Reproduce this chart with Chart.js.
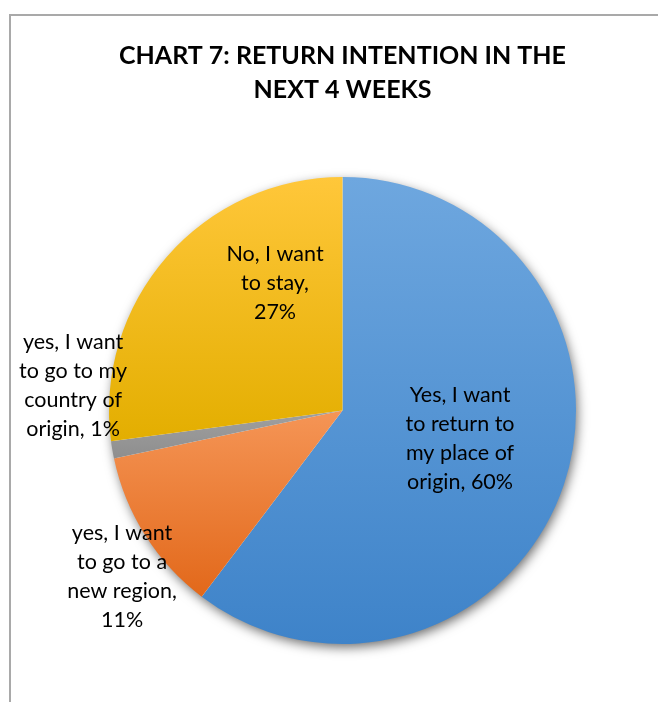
<!DOCTYPE html>
<html>
<head>
<meta charset="utf-8">
<script src="https://cdn.jsdelivr.net/npm/chart.js@4.4.0/dist/chart.umd.min.js"></script>
<style>
  html, body { margin: 0; padding: 0; background: #ffffff; }
  #wrap { position: absolute; left: 0; top: 0; width: 658px; height: 702px; overflow: hidden; }
  #frame { position: absolute; left: 9px; top: 14px; width: 720px; height: 760px;
           border-left: 2px solid #a9a9a9; border-top: 2px solid #a9a9a9; }
  #c { position: absolute; left: 0; top: 0; }
</style>
</head>
<body>
<div id="wrap">
  <div id="frame"></div>
  <canvas id="c" width="658" height="702"></canvas>
</div>
<script>
// ---- data ----
const titleLines = ["CHART 7: RETURN INTENTION IN THE", "NEXT 4 WEEKS"];
const categories = [
  "Yes, I want to return to my place of origin",
  "yes, I want to go to a new region",
  "yes, I want to go to my country of origin",
  "No, I want to stay"
];
const labelLines = [
  ["Yes, I want", "to return to", "my place of", "origin,"],
  ["yes, I want", "to go to a", "new region,", ""],
  ["yes, I want", "to go to my", "country of", "origin,"],
  ["No, I want", "to stay,", ""]
];
const values = [60.3, 11.4, 1.2, 27.1];

// ---- style ----
const gradTop = ["#6ea7df", "#f59556", "#a0a0a0", "#ffc73a"];
const gradBot = ["#3e83c9", "#e2681a", "#8e8e8e", "#e3ae00"];
// label placement: angle shift (deg) from slice middle and radius factor
const labelShift = [-4.9, -4.65, 15.1, 20.9];
const labelRadius = [0.518, 1.183, 1.159, 0.618];
const labelFont = '21.5px Lato';
const labelLineH = 29;

function sliceGradient(context) {
  const chart = context.chart;
  const ca = chart.chartArea;
  if (!ca) return gradTop[context.dataIndex];
  const i = context.dataIndex;
  const cx = (ca.left + ca.right) / 2, cy = (ca.top + ca.bottom) / 2;
  const r = Math.min(ca.right - ca.left, ca.bottom - ca.top) / 2;
  const total = values.reduce((a, b) => a + b, 0);
  let acc = 0;
  for (let k = 0; k < i; k++) acc += values[k];
  const a0 = -Math.PI / 2 + acc / total * 2 * Math.PI;
  const a1 = a0 + values[i] / total * 2 * Math.PI;
  let minY = cy, maxY = cy;
  for (let s = 0; s <= 60; s++) {
    const a = a0 + (a1 - a0) * s / 60;
    const y = cy + Math.sin(a) * r;
    minY = Math.min(minY, y); maxY = Math.max(maxY, y);
  }
  const g = chart.ctx.createLinearGradient(0, minY, 0, maxY);
  g.addColorStop(0, gradTop[i]);
  g.addColorStop(1, gradBot[i]);
  return g;
}

const shadowPlugin = {
  id: 'pieShadow',
  beforeDatasetsDraw(chart) {
    const el = chart.getDatasetMeta(0).data[0];
    if (!el) return;
    const ctx = chart.ctx;
    ctx.save();
    ctx.shadowColor = 'rgba(0,0,0,0.6)';
    ctx.shadowBlur = 12;
    ctx.shadowOffsetX = 2;
    ctx.shadowOffsetY = 4;
    ctx.fillStyle = '#ffffff';
    ctx.beginPath();
    ctx.arc(el.x, el.y, el.outerRadius - 1, 0, Math.PI * 2);
    ctx.fill();
    ctx.restore();
  }
};

const labelPlugin = {
  id: 'sliceLabels',
  afterDatasetsDraw(chart) {
    const ctx = chart.ctx;
    const total = values.reduce((a, b) => a + b, 0);
    const meta = chart.getDatasetMeta(0);
    ctx.save();
    ctx.font = labelFont;
    ctx.fillStyle = '#000000';
    ctx.textAlign = 'center';
    ctx.textBaseline = 'middle';
    meta.data.forEach((el, i) => {
      const mid = (el.startAngle + el.endAngle) / 2 + labelShift[i] * Math.PI / 180;
      const rr = el.outerRadius * labelRadius[i];
      const x = el.x + Math.cos(mid) * rr;
      const y = el.y + Math.sin(mid) * rr;
      const pct = Math.round(values[i] / total * 100) + '%';
      const lines = labelLines[i].slice();
      const last = lines.length - 1;
      lines[last] = lines[last] ? lines[last] + ' ' + pct : pct;
      const y0 = y - (lines.length - 1) * labelLineH / 2;
      lines.forEach((t, k) => ctx.fillText(t, x, y0 + k * labelLineH));
    });
    ctx.restore();
  }
};

new Chart(document.getElementById('c'), {
  type: 'pie',
  data: {
    labels: categories,
    datasets: [{
      data: values,
      backgroundColor: sliceGradient,
      borderWidth: 0
    }]
  },
  options: {
    responsive: false,
    animation: false,
    events: [],
    layout: { padding: { left: 109, right: 82, top: 0, bottom: 58 } },
    plugins: {
      legend: { display: false },
      tooltip: { enabled: false },
      title: {
        display: true,
        text: titleLines,
        color: '#000000',
        font: { family: 'Lato', size: 25, weight: 'bold', lineHeight: 1.36 },
        padding: { top: 39, bottom: 70.0 }
      }
    }
  },
  plugins: [shadowPlugin, labelPlugin]
});
</script>
</body>
</html>
